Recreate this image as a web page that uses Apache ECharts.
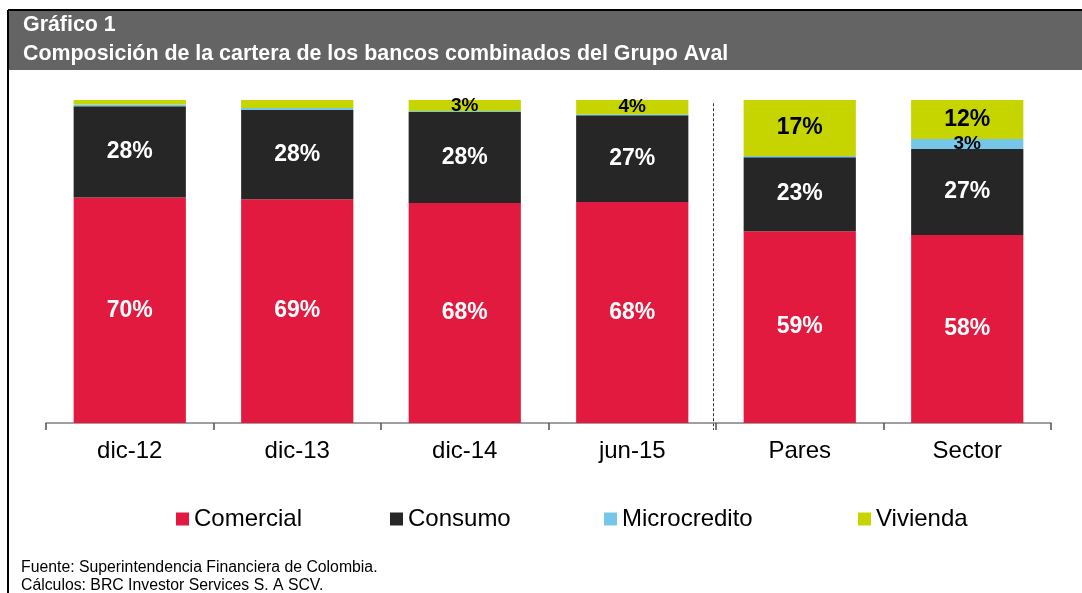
<!DOCTYPE html>
<html>
<head>
<meta charset="utf-8">
<script src="https://cdn.jsdelivr.net/npm/echarts@6/dist/echarts.min.js"></script>
<style>
  html, body { margin: 0; padding: 0; background: #fff; }
  #main { width: 1082px; height: 593px; }
</style>
</head>
<body>
<div id="main"></div>
<script>
// periodos y grupos
var categories = ['dic-12', 'dic-13', 'dic-14', 'jun-15', 'Pares', 'Sector'];
// participacion en % de la cartera
var comercial    = [69.8, 69.3, 68.1, 68.4, 59.4, 58.2];
var consumo      = [28.3, 27.6, 28.2, 26.9, 22.9, 26.6];
var microcredito = [0.5, 0.6, 0.3, 0.3, 0.4, 3.1];
var vivienda     = [1.4, 2.5, 3.4, 4.4, 17.3, 12.1];
// etiquetas que aparecen en el grafico (null = sin etiqueta)
var microLabels    = [null, null, null, null, null, '3%'];
var viviendaLabels = [null, null, '3%', '4%', '17%', '12%'];

var chart = echarts.init(document.getElementById('main'));
var FONT = 'Liberation Sans, Arial, sans-serif';

function barSerie(name, color, values, labels, textColor) {
    return {
        name: name,
        type: 'bar',
        stack: 'total',
        barWidth: '67%',
        itemStyle: {color: color},
        label: {
            show: true,
            position: 'inside',
            color: textColor,
            fontFamily: FONT,
            fontWeight: 'bold',
            fontSize: 23,
            formatter: function (p) {
                return labels ? labels[p.dataIndex] : Math.round(p.value) + '%';
            }
        },
        data: values.map(function (v, i) {
            if (!labels) return v;
            // los segmentos delgados llevan la etiqueta mas pequena
            return {value: v, label: {show: labels[i] != null, fontSize: v < 6 ? 19 : 23}};
        })
    };
}

function legendAt(name, left) {
    return {
        data: [name],
        left: left,
        top: 502,
        itemWidth: 13,
        itemHeight: 13,
        icon: 'rect',
        textStyle: {fontFamily: FONT, fontSize: 24, color: '#000'}
    };
}

var headerFont = 'bold 21.4px ' + FONT;

var option = {
    animation: false,
    backgroundColor: '#fff',
    graphic: [
        {type: 'rect', z: -1, shape: {x: 8, y: 10, width: 1074, height: 60}, style: {fill: '#646464'}},
        {type: 'line', shape: {x1: 8, y1: 10, x2: 1082, y2: 10}, style: {stroke: '#000', lineWidth: 2}},
        {type: 'line', shape: {x1: 8, y1: 10, x2: 8, y2: 593}, style: {stroke: '#000', lineWidth: 2}},
        {type: 'text', x: 23, y: 25, style: {text: 'Gráfico 1', font: headerFont, fill: '#fff', verticalAlign: 'middle'}},
        {type: 'text', x: 23, y: 54, style: {text: 'Composición de la cartera de los bancos combinados del Grupo Aval', font: headerFont, fill: '#fff', verticalAlign: 'middle'}},
        {type: 'text', x: 21, y: 568, style: {text: 'Fuente: Superintendencia Financiera de Colombia.', font: '15.8px ' + FONT, fill: '#000', verticalAlign: 'middle'}},
        {type: 'text', x: 21, y: 586, style: {text: 'Cálculos: BRC Investor Services S. A SCV.', font: '15.8px ' + FONT, fill: '#000', verticalAlign: 'middle'}}
    ],
    legend: [
        legendAt('Comercial', 171),
        legendAt('Consumo', 385),
        legendAt('Microcredito', 599),
        legendAt('Vivienda', 853)
    ],
    grid: {left: 46, right: 31, top: 100, bottom: 170},
    xAxis: {
        type: 'category',
        data: categories,
        axisLine: {lineStyle: {color: '#808080', width: 1.5}},
        axisTick: {show: true, length: 7, lineStyle: {color: '#505050', width: 1.5}},
        axisLabel: {fontFamily: FONT, fontSize: 24, color: '#000', margin: 16}
    },
    yAxis: {
        type: 'value',
        min: 0,
        max: 100,
        show: false
    },
    series: [
        barSerie('Comercial', '#E31A3F', comercial, null, '#fff'),
        barSerie('Consumo', '#262626', consumo, null, '#fff'),
        barSerie('Microcredito', '#75C6E8', microcredito, microLabels, '#000'),
        barSerie('Vivienda', '#C6D500', vivienda, viviendaLabels, '#000')
    ]
};

chart.setOption(option);

// linea punteada que separa los bancos del grupo de Pares y Sector
var xa = chart.convertToPixel({xAxisIndex: 0}, 'jun-15');
var xb = chart.convertToPixel({xAxisIndex: 0}, 'Pares');
var top0 = chart.convertToPixel({yAxisIndex: 0}, 99);
var base = chart.convertToPixel({yAxisIndex: 0}, 0);
var sepX = Math.round((xa + xb) / 2) - 2.5;
chart.setOption({
    graphic: option.graphic.concat([{
        type: 'line',
        shape: {x1: sepX, y1: top0, x2: sepX, y2: base + 7},
        style: {stroke: '#333', lineWidth: 1, lineDash: [3, 2]}
    }])
});
</script>
</body>
</html>
